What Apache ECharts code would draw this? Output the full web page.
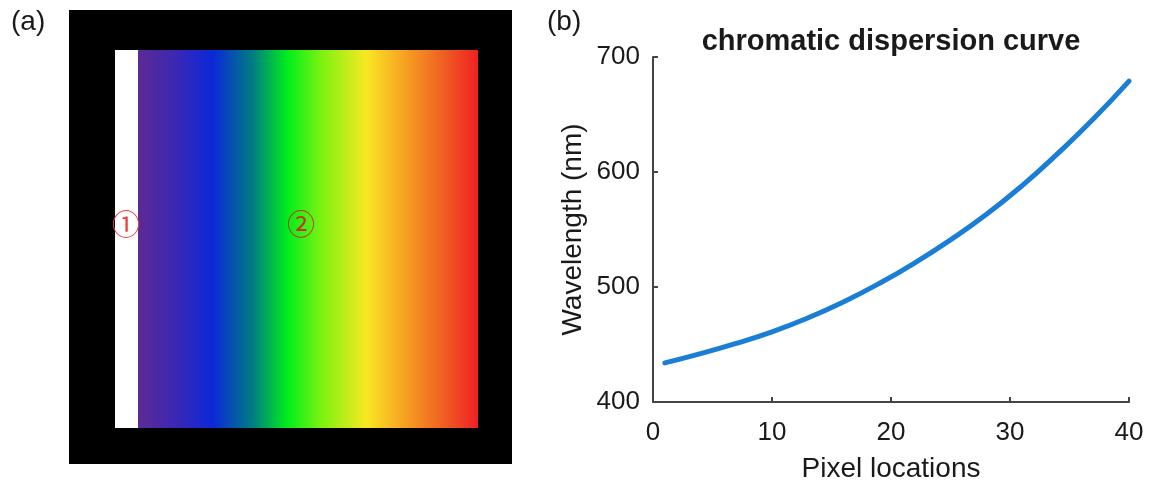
<!DOCTYPE html>
<html>
<head>
<meta charset="utf-8">
<script src="https://cdn.jsdelivr.net/npm/echarts@6/dist/echarts.min.js"></script>
<style>
html,body{margin:0;padding:0;background:#fff;}
#chart{width:1157px;height:489px;}
</style>
</head>
<body>
<div id="chart"></div>
<script>
// Panel (b) data: chromatic dispersion curve
const pixelLocations = [1, 4, 7, 10, 13, 16, 19, 22, 25, 28, 31, 34, 37, 40];
const wavelengths = [434, 442, 451, 461, 473, 487, 503, 521, 541, 563, 588, 616, 646, 679];
const xTicks = [0, 10, 20, 30, 40];
const yTicks = [400, 500, 600, 700];
const titleText = 'chromatic dispersion curve';
const xName = 'Pixel locations';
const yName = 'Wavelength (nm)';
const panelLabels = ['(a)', '(b)'];
const regionLabels = ['①', '②'];

const chart = echarts.init(document.getElementById('chart'), null, {renderer: 'canvas'});
const FONT = '"Liberation Sans", Arial, Helvetica, sans-serif';

const spectrumStops = [
  {offset: 0.00, color: '#5c2a94'},
  {offset: 0.10, color: '#3f28b0'},
  {offset: 0.22, color: '#0a28d8'},
  {offset: 0.34, color: '#008080'},
  {offset: 0.44, color: '#00ee1a'},
  {offset: 0.54, color: '#7cf210'},
  {offset: 0.67, color: '#f8e822'},
  {offset: 0.78, color: '#f6a422'},
  {offset: 0.88, color: '#f06a22'},
  {offset: 1.00, color: '#ee2024'}
];

const option = {
  backgroundColor: '#ffffff',
  animation: false,
  title: {
    text: titleText,
    left: 886,
    top: 22,
    textAlign: 'center',
    textStyle: {fontFamily: FONT, fontWeight: 'bold', fontSize: 29, color: '#1a1a1a'}
  },
  grid: {left: 653, right: 28, top: 57, bottom: 87, outerBoundsMode: 'none'},
  xAxis: {
    type: 'value',
    min: xTicks[0], max: xTicks[xTicks.length - 1], interval: 10,
    name: xName, nameLocation: 'middle', nameGap: 53,
    nameTextStyle: {fontFamily: FONT, fontSize: 28, color: '#1a1a1a'},
    axisLine: {show: true, lineStyle: {color: '#444', width: 2}},
    axisTick: {show: true, inside: true, length: 5, lineStyle: {color: '#444', width: 2}},
    axisLabel: {fontFamily: FONT, fontSize: 26, color: '#1a1a1a', margin: 18},
    splitLine: {show: false}
  },
  yAxis: {
    type: 'value',
    min: yTicks[0], max: yTicks[yTicks.length - 1], interval: 100,
    name: yName, nameLocation: 'middle', nameGap: 66,
    nameTextStyle: {fontFamily: FONT, fontSize: 28, color: '#1a1a1a'},
    axisLine: {show: true, lineStyle: {color: '#444', width: 2}},
    axisTick: {show: true, inside: true, length: 5, lineStyle: {color: '#444', width: 2}},
    axisLabel: {fontFamily: FONT, fontSize: 26, color: '#1a1a1a', margin: 13},
    splitLine: {show: false}
  },
  series: [{
    type: 'line',
    data: pixelLocations.map((x, i) => [x, wavelengths[i]]),
    smooth: true,
    showSymbol: false,
    lineStyle: {color: '#1a7ed6', width: 5, cap: 'round'}
  }],
  graphic: [
    {type: 'text', left: 11, top: 8, style: {text: panelLabels[0], font: '28px ' + FONT, fill: '#1a1a1a'}},
    {type: 'text', left: 547, top: 8, style: {text: panelLabels[1], font: '28px ' + FONT, fill: '#1a1a1a'}},
    {type: 'rect', shape: {x: 69, y: 10, width: 443, height: 454}, style: {fill: '#000000'}},
    {type: 'rect', shape: {x: 115, y: 50, width: 24, height: 378}, style: {fill: '#ffffff'}},
    {type: 'rect', shape: {x: 138, y: 50, width: 340, height: 378},
      style: {fill: new echarts.graphic.LinearGradient(0, 0, 1, 0, spectrumStops)}},
    {type: 'text', x: 126, y: 224, style: {text: regionLabels[0], font: '28px "Noto Sans CJK SC"', fill: '#ee4040', align: 'center', verticalAlign: 'middle'}},
    {type: 'text', x: 301, y: 224, style: {text: regionLabels[1], font: '28px "Noto Sans CJK SC"', fill: '#c8321a', align: 'center', verticalAlign: 'middle'}}
  ]
};
chart.setOption(option);
</script>
</body>
</html>
